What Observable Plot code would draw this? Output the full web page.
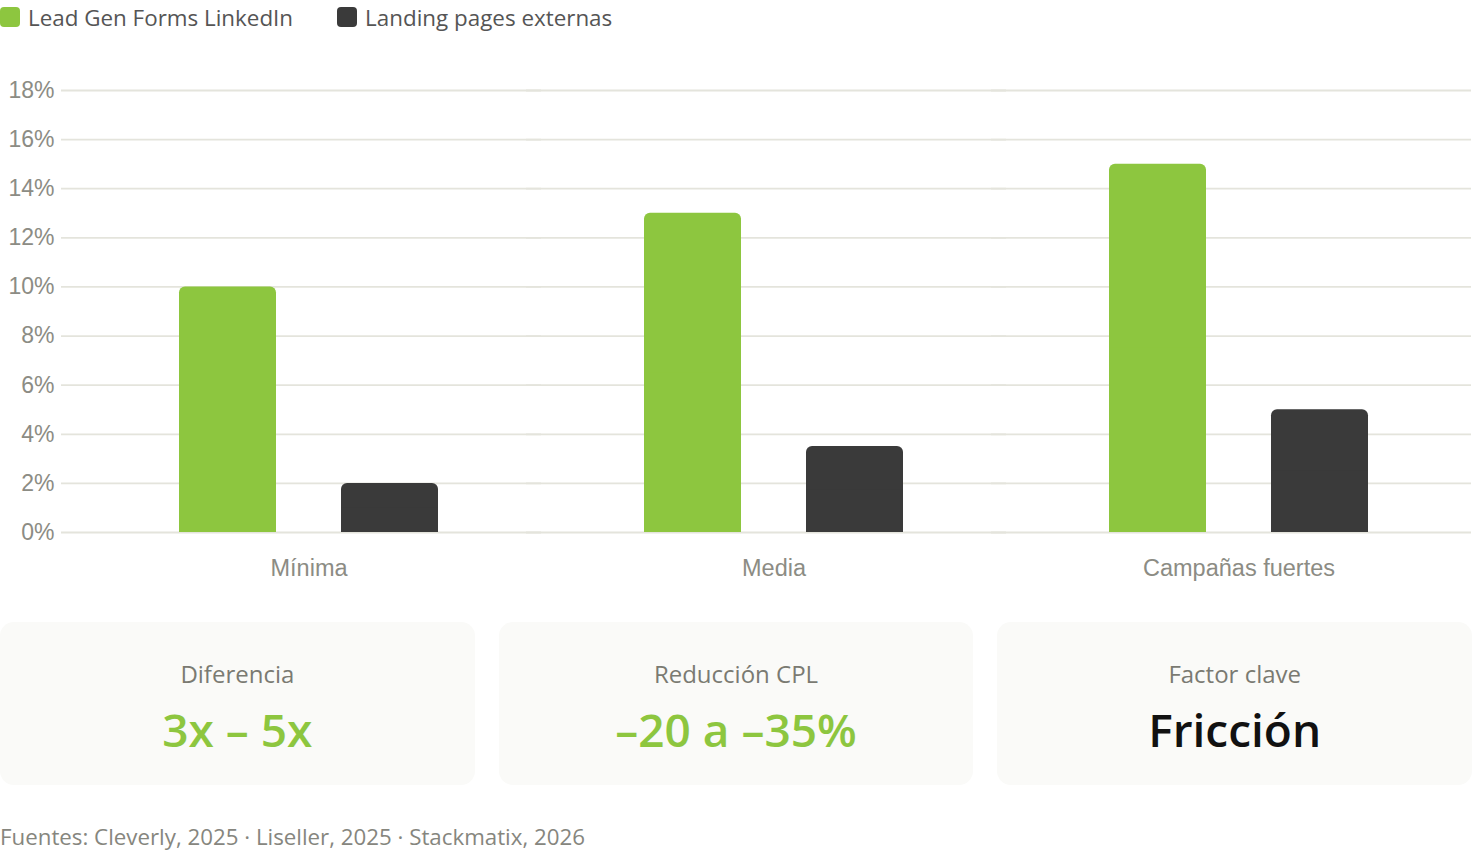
<!DOCTYPE html>
<html>
<head>
<meta charset="utf-8">
<script src="https://cdn.jsdelivr.net/npm/d3@7"></script>
<script src="https://cdn.jsdelivr.net/npm/@observablehq/plot@0.6"></script>
<style>
  html, body { margin: 0; padding: 0; background: #fff; }
  body { width: 1472px; font-family: "Open Sans", "Noto Sans", sans-serif; }
  .legend { height: 40px; display: flex; align-items: center; gap: 0; font-size: 22.4px; color: #555; position: relative; top: -3px; }
  .legend .item { display: flex; align-items: center; margin-right: 44px; }
  .legend .sw { width: 20px; height: 20px; border-radius: 4px; margin-right: 8px; }
  #chart svg { display: block; }
  .cards { display: flex; gap: 24px; margin-top: 22px; }
  .card { flex: 1; height: 163px; background: #fafaf8; border-radius: 14px; display: flex; flex-direction: column; align-items: center; justify-content: center; }
  .card .t { font-size: 24px; color: #7a7a72; margin-bottom: 4px; position: relative; top: -3px; }
  .card .v { font-size: 46px; font-weight: 600; line-height: 1.1; position: relative; top: 7px; }
  .foot { margin-top: 36px; font-size: 22.3px; color: #86867e; }
</style>
</head>
<body>
<div class="legend" id="legend"></div>
<div id="chart"></div>
<div class="cards" id="cards"></div>
<div class="foot" id="foot"></div>
<script>
const categories = ["Mínima", "Media", "Campañas fuertes"];
const seriesNames = ["Lead Gen Forms LinkedIn", "Landing pages externas"];
const seriesColors = ["#8dc63f", "#3a3a3a"];
const linkedinValues = [10, 13, 15];
const landingValues = [2, 3.5, 5];
const yTicks = [0, 2, 4, 6, 8, 10, 12, 14, 16, 18];
const cardTitles = ["Diferencia", "Reducción CPL", "Factor clave"];
const cardValues = ["3x – 5x", "–20 a –35%", "Fricción"];
const cardColors = ["#8dc63f", "#8dc63f", "#111111"];
const footnote = "Fuentes: Cleverly, 2025 · Liseller, 2025 · Stackmatix, 2026";

const data = [];
categories.forEach((c, i) => {
  data.push({category: c, series: seriesNames[0], value: linkedinValues[i]});
  data.push({category: c, series: seriesNames[1], value: landingValues[i]});
});

// legend
const legend = document.getElementById("legend");
seriesNames.forEach((s, i) => {
  const it = document.createElement("div");
  it.className = "item";
  it.innerHTML = `<span class="sw" style="background:${seriesColors[i]}"></span><span>${s}</span>`;
  legend.appendChild(it);
});

const chart = Plot.plot({
  width: 1472,
  height: 560,
  marginTop: 50,
  marginBottom: 68,
  marginLeft: 75,
  marginRight: 0,
  style: {fontFamily: "'Liberation Sans', Arial, sans-serif", fontSize: "23px", color: "#8c8c84", background: "transparent"},
  fx: {domain: categories, padding: 0, label: null},
  x: {domain: seriesNames, paddingInner: 0.4, paddingOuter: 0.628, axis: null},
  y: {domain: [0, 18], ticks: yTicks, label: null, tickFormat: d => d + "%"},
  color: {domain: seriesNames, range: seriesColors},
  marks: [
    Plot.ruleY(yTicks, {stroke: "#e4e4dc", strokeWidth: 1.8, insetLeft: -15}),
    Plot.axisY({ticks: yTicks, tickSize: 0, tickPadding: 22, tickFormat: d => d + "%", label: null, fill: "#8c8c84", fontSize: 23}),
    Plot.axisFx({anchor: "bottom", tickSize: 0, tickPadding: 27, label: null, fontSize: 23.5, fill: "#8c8c84"}),
    // rounded full bar
    Plot.barY(data, {fx: "category", x: "series", y: "value", fill: "series", rx: 6}),
    // square lower half to keep bottom corners square
    Plot.barY(data, {fx: "category", x: "series", y1: 0, y2: d => d.value / 2, fill: "series"})
  ]
});
document.getElementById("chart").appendChild(chart);

const cards = document.getElementById("cards");
cardTitles.forEach((t, i) => {
  const c = document.createElement("div");
  c.className = "card";
  c.innerHTML = `<div class="t">${t}</div><div class="v" style="color:${cardColors[i]}">${cardValues[i]}</div>`;
  cards.appendChild(c);
});
document.getElementById("foot").textContent = footnote;
</script>
</body>
</html>
